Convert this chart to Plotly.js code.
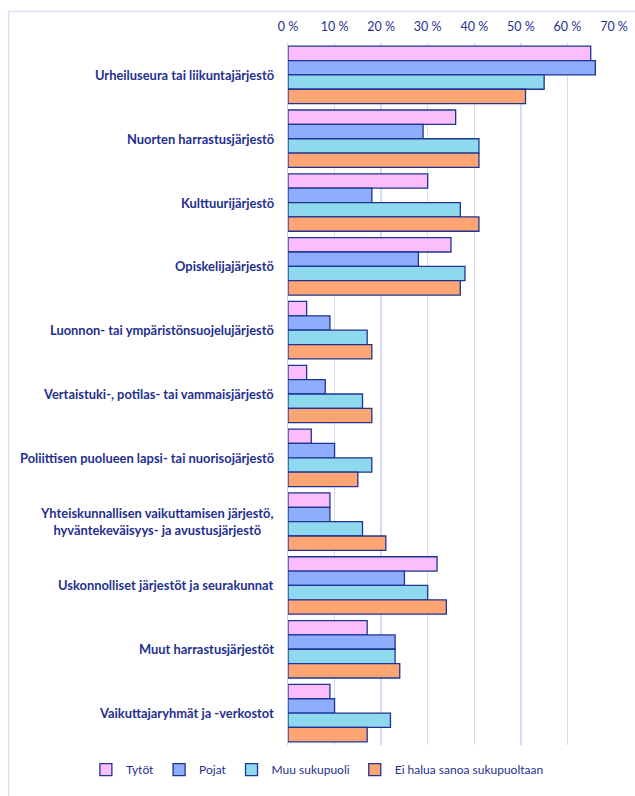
<!DOCTYPE html>
<html>
<head>
<meta charset="utf-8">
<script src="https://cdn.plot.ly/plotly-3.0.1.min.js"></script>
<style>html,body{margin:0;padding:0;background:#fff;}#chart{width:635px;height:796px;}</style>
</head>
<body>
<div id="chart"></div>
<script>
const categories = [
  "Urheiluseura tai liikuntajärjestö",
  "Nuorten harrastusjärjestö",
  "Kulttuurijärjestö",
  "Opiskelijajärjestö",
  "Luonnon- tai ympäristönsuojelujärjestö",
  "Vertaistuki-, potilas- tai vammaisjärjestö",
  "Poliittisen puolueen lapsi- tai nuorisojärjestö",
  "Yhteiskunnallisen vaikuttamisen järjestö,<br>hyväntekeväisyys- ja avustusjärjestö",
  "Uskonnolliset järjestöt ja seurakunnat",
  "Muut harrastusjärjestöt",
  "Vaikuttajaryhmät ja -verkostot"
];
const seriesNames = ["Tytöt", "Pojat", "Muu sukupuoli", "Ei halua sanoa sukupuoltaan"];
const tytot = [0.65, 0.36, 0.30, 0.35, 0.04, 0.04, 0.05, 0.09, 0.32, 0.17, 0.09];
const pojat = [0.66, 0.29, 0.18, 0.28, 0.09, 0.08, 0.10, 0.09, 0.25, 0.23, 0.10];
const muu   = [0.55, 0.41, 0.37, 0.38, 0.17, 0.16, 0.18, 0.16, 0.30, 0.23, 0.22];
const ei    = [0.51, 0.41, 0.41, 0.37, 0.18, 0.18, 0.15, 0.21, 0.34, 0.24, 0.17];
const tickVals = [0, 0.1, 0.2, 0.3, 0.4, 0.5, 0.6, 0.7];
const tickText = ["0 %", "10 %", "20 %", "30 %", "40 %", "50 %", "60 %", "70 %"];

const colors = ["#FBBDFB", "#8EADFB", "#8ED9EE", "#FFA574"];
const outline = "#1F3592";
const textColor = "#1F3090";

const values = [tytot, pojat, muu, ei];
const traces = values.map((v, i) => ({
  type: "bar",
  orientation: "h",
  name: seriesNames[i],
  y: categories,
  x: v,
  marker: { color: colors[i], line: { color: outline, width: 1.3 } }
}));

// category labels as annotations so the two-line label can be centre-aligned
const labelAnnotations = categories.map(c => ({
  xref: "paper", yref: "y",
  x: -0.037, y: c,
  xanchor: "right", yanchor: "middle",
  align: "center",
  showarrow: false,
  text: c,
  font: { size: 12.9, color: textColor, weight: "bold", family: "Lato, 'Open Sans', sans-serif" }
}));

const layout = {
  width: 635,
  height: 796,
  margin: { l: 288, r: 21, t: 43, b: 39, pad: 0 },
  paper_bgcolor: "#ffffff",
  plot_bgcolor: "#ffffff",
  barmode: "group",
  bargap: 0.1,
  bargroupgap: 0,
  font: { family: "Lato, 'Open Sans', sans-serif", color: textColor },
  xaxis: {
    side: "top",
    range: [0, 0.7],
    tickvals: tickVals,
    ticktext: tickText,
    showgrid: true,
    gridcolor: "#D3DCF7",
    gridwidth: 1.5,
    zeroline: false,
    showline: false,
    ticks: "",
    automargin: false,
    ticklabelstandoff: 9,
    tickfont: { size: 12.5, color: textColor }
  },
  yaxis: {
    autorange: "reversed",
    showline: true,
    linecolor: "#C9D3F2",
    linewidth: 1.5,
    ticks: "",
    automargin: false,
    showticklabels: false
  },
  legend: {
    orientation: "h",
    x: -0.62,
    xanchor: "left",
    y: -0.035,
    yanchor: "middle",
    itemwidth: 30,
    font: { size: 12, color: textColor },
    traceorder: "normal"
  },
  annotations: labelAnnotations,
  shapes: [{
    type: "rect",
    xref: "paper", yref: "paper",
    x0: -0.857, x1: 1.3, y0: -0.3, y1: 1.045,
    line: { color: "#DCE1F7", width: 1.5 },
    fillcolor: "rgba(0,0,0,0)",
    layer: "below"
  }],
  showlegend: true
};

Plotly.newPlot("chart", traces, layout, { displayModeBar: false, staticPlot: true });
</script>
</body>
</html>
